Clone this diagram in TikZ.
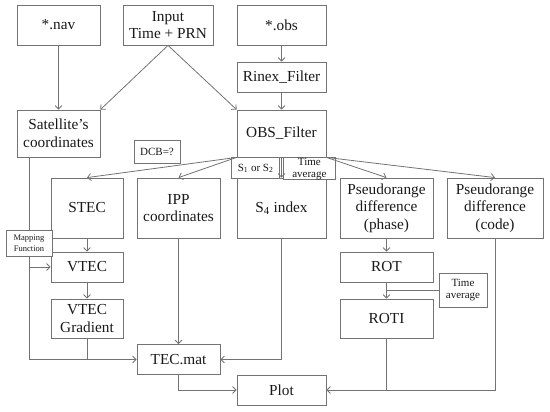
\documentclass[tikz,border=0pt]{standalone}
\usepackage{fontspec}
\setmainfont{Liberation Serif}
\usetikzlibrary{arrows.meta}

\begin{document}
\begin{tikzpicture}[x=1pt, y=-1pt, line width=0.8pt, color=black!55,
	>={Straight Barb[length=3.5pt,width=7pt]},
	box/.style={draw, align=center, inner sep=0pt, text=black!90, font=\fontsize{15.3}{17.5}\selectfont},
	note/.style={box, fill=white, font=\fontsize{11}{12}\selectfont},
	tiny/.style={box, fill=white, font=\fontsize{8.5}{11}\selectfont}]
	\useasboundingbox (0,0) rectangle (550,412);

	\node[box, minimum width=83pt, minimum height=40pt] (nav) at (58.5,25) {*.nav};
	\node[box, minimum width=90pt, minimum height=40pt] (inp) at (168,25) {Input\\Time + PRN};
	\node[box, minimum width=89pt, minimum height=40pt] (obs) at (281.5,25) {*.obs};
	\node[box, minimum width=89pt, minimum height=30pt] (rinex) at (281.5,77) {Rinex\_Filter};
	\node[box, minimum width=89pt, minimum height=47pt] (obsf) at (281.5,133.5) {OBS\_Filter};
	\node[box, minimum width=83pt, minimum height=47pt] (sat) at (58.5,133.5) {Satellite’s\\coordinates};
	\node[note, minimum width=46pt, minimum height=23pt] (dcb) at (157,151.5) {DCB=?};

	\node[box, minimum width=72pt, minimum height=60pt] (stec) at (87,208) {STEC};
	\node[box, minimum width=83pt, minimum height=60pt] (ipp) at (178.5,208) {IPP\\coordinates};
	\node[box, minimum width=89pt, minimum height=60pt] (sfour) at (281.5,208) {S\textsubscript{4} index};
	\node[box, minimum width=93pt, minimum height=60pt] (phase) at (386.5,208) {Pseudorange\\difference\\(phase)};
	\node[box, minimum width=96pt, minimum height=60pt] (code) at (495,208) {Pseudorange\\difference\\(code)};

	\node[box, minimum width=72pt, minimum height=30pt] (vtec) at (87,267) {VTEC};
	\node[box, minimum width=72pt, minimum height=39pt] (grad) at (87,318.5) {VTEC\\Gradient};
	\node[tiny, minimum width=46pt, minimum height=26pt] (map) at (29,243) {Mapping\\Function};
	\node[box, minimum width=83pt, minimum height=30pt] (tec) at (178.5,359.5) {TEC.mat};
	\node[box, minimum width=89pt, minimum height=30pt] (plot) at (281.5,390) {Plot};

	\node[box, minimum width=93pt, minimum height=30pt] (rot) at (386.5,267) {ROT};
	\node[box, minimum width=93pt, minimum height=39pt] (roti) at (386.5,318.5) {ROTI};
	\node[note, minimum width=48pt, minimum height=34pt] (avgb) at (463,290) {Time\\average};

	\node[note, anchor=north east, minimum width=48pt, minimum height=21pt] (sone) at ([xshift=-1.5pt]obsf.south) {S\textsubscript{1} or S\textsubscript{2}};
	\node[note, anchor=north west, minimum width=52pt, minimum height=21pt] (avga) at ([xshift=1.5pt]obsf.south) {Time\\average};

	\draw[->] (nav) to (sat);
	\draw[->] (inp.south) to (sat.north east);
	\draw[->] (inp.south) to (obsf.north west);
	\draw[->] (obs) to (rinex);
	\draw[->] (rinex) to (obsf);

	\draw[->] (obsf.south west) to (stec.north);
	\draw[->] (obsf.south west) to (ipp.north);
	\draw[->] (obsf.south) to (sfour.north);
	\draw[->] (obsf.south east) to (phase.north);
	\draw[->] (obsf.south east) to (code.north);

	\draw (map.north |- sat.south) to (map.north);
	\draw[->] (map.south |- vtec.west) to (vtec.west);
	\draw[->] (map.south) |- (tec.west);
	\draw[->] (stec) to (vtec);
	\draw[->] (vtec) to (grad);
	\draw (grad.south) to (grad.south |- tec.west);
	\draw[->] (ipp) to (tec);
	\draw[->] (sfour.south) |- (tec.east);
	\draw[->] (tec.south) |- (plot.west);

	\draw[->] (phase) to (rot);
	\draw[->] (rot) to (roti);
	\draw (avgb.west) to (avgb.west -| rot.south);
	\draw (roti.south) to (roti.south |- plot.east);
	\draw[->] (code.south) |- (plot.east);
\end{tikzpicture}
\end{document}
